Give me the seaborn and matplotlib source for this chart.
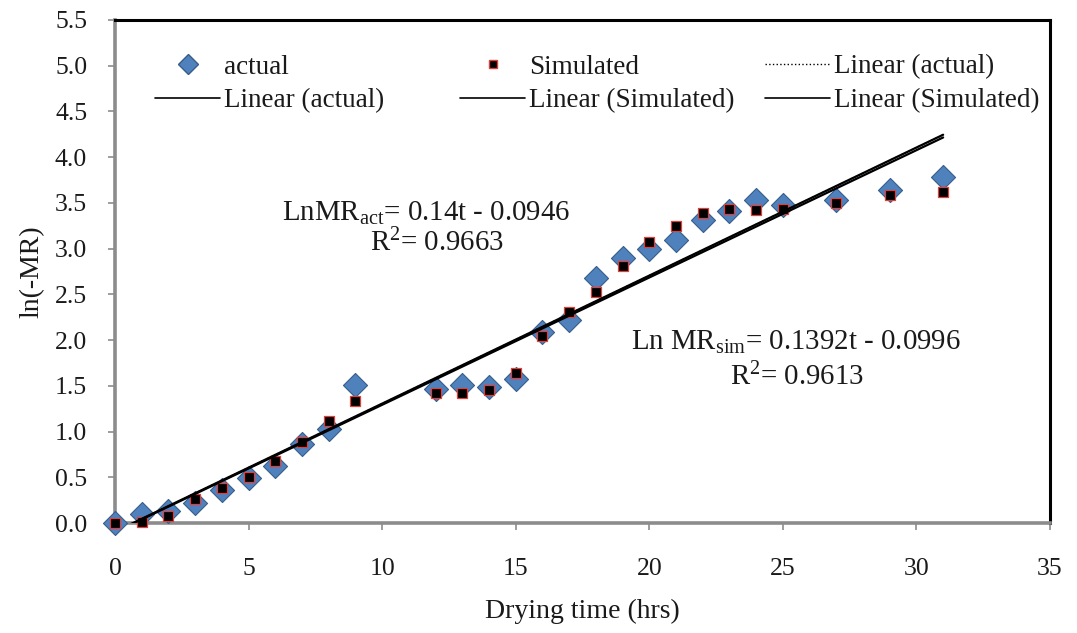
import numpy as np
import pandas as pd
import matplotlib
matplotlib.use("Agg")
import matplotlib.pyplot as plt
from matplotlib.lines import Line2D
import seaborn as sns

# Drying time (hrs) and ln(-MR) for the measured and simulated runs
time_hrs = [0, 1, 2, 3, 4, 5, 6, 7, 8, 9, 12, 13, 14, 15, 16, 17, 18, 19, 20,
            21, 22, 23, 24, 25, 27, 29, 31]
ln_mr_actual = [0.00, 0.10, 0.13, 0.22, 0.36, 0.49, 0.62, 0.86, 1.03, 1.51,
                1.47, 1.51, 1.49, 1.57, 2.09, 2.22, 2.68, 2.90, 3.00, 3.09,
                3.31, 3.41, 3.53, 3.48, 3.53, 3.64, 3.78]
ln_mr_simulated = [0.00, 0.01, 0.08, 0.26, 0.38, 0.50, 0.68, 0.89, 1.11, 1.33,
                   1.42, 1.42, 1.45, 1.64, 2.05, 2.31, 2.53, 2.81, 3.07, 3.25,
                   3.39, 3.43, 3.42, 3.43, 3.50, 3.59, 3.62]

# Linear fits reported on the chart
fit_actual = (0.14, -0.0946, 0.9663)
fit_simulated = (0.1392, -0.0996, 0.9613)

x_ticks = [0, 5, 10, 15, 20, 25, 30, 35]
y_ticks = [0.0, 0.5, 1.0, 1.5, 2.0, 2.5, 3.0, 3.5, 4.0, 4.5, 5.0, 5.5]

sns.set_theme(style="white")
plt.rcParams["font.family"] = ["Liberation Serif", "DejaVu Serif"]
plt.rcParams["mathtext.fontset"] = "custom"
plt.rcParams["mathtext.rm"] = "Liberation Serif"
plt.rcParams["mathtext.it"] = "Liberation Serif:italic"

W, H = 1077, 633
fig = plt.figure(figsize=(W / 100, H / 100), dpi=100)
ax = fig.add_axes([115 / W, 110 / H, 935 / W, 503 / H])

df = pd.DataFrame({"t": time_hrs, "actual": ln_mr_actual, "sim": ln_mr_simulated})

sns.scatterplot(data=df, x="t", y="actual", marker="D", s=150,
                color="#4F81BD", edgecolor="#385D8A", linewidth=0.8,
                clip_on=False, zorder=3, ax=ax, legend=False)
sns.scatterplot(data=df, x="t", y="sim", marker="s", s=44,
                color="black", edgecolor="#E0403C", linewidth=0.9,
                clip_on=False, zorder=4, ax=ax, legend=False)

t_fit = np.array([0.0, max(time_hrs)])
fit_df = pd.DataFrame({
    "t": t_fit,
    "act": fit_actual[0] * t_fit + fit_actual[1],
    "sim": fit_simulated[0] * t_fit + fit_simulated[1],
})
sns.lineplot(data=fit_df, x="t", y="act", color="black", linestyle=":",
             linewidth=1.0, zorder=5, ax=ax, legend=False)
sns.lineplot(data=fit_df, x="t", y="act", color="black", linewidth=1.6,
             zorder=5, ax=ax, legend=False)
sns.lineplot(data=fit_df, x="t", y="sim", color="black", linewidth=1.6,
             zorder=5, ax=ax, legend=False)

ax.set_xlim(0, 35)
ax.set_ylim(0, 5.5)
ax.set_xticks(x_ticks)
ax.set_yticks(y_ticks)
ax.set_xticklabels([str(v) for v in x_ticks])
ax.set_yticklabels([f"{v:.1f}" for v in y_ticks])

ax.tick_params(axis="both", which="major", direction="out", length=5,
               width=1.2, color="#8c8c8c", labelsize=18.5, labelcolor="#1a1a1a",
               left=True, bottom=True)
ax.tick_params(axis="y", pad=15)
ax.tick_params(axis="x", pad=20)

for side in ("left", "bottom"):
    ax.spines[side].set_color("#8c8c8c")
    ax.spines[side].set_linewidth(2.6)
for side in ("top", "right"):
    ax.spines[side].set_color("black")
    ax.spines[side].set_linewidth(2.2)

ax.set_xlabel("Drying time (hrs)", fontsize=20, color="#1a1a1a")
ax.set_ylabel("ln(-MR)", fontsize=20, color="#1a1a1a")
ax.xaxis.set_label_coords(0.5, -0.15)
ax.yaxis.set_label_coords(-0.075, 0.5)

# Fit equations
eq_fs = 20.8
ax.text(11.64, 3.39, r"LnMR$_{\mathrm{act}}$= 0.14t - 0.0946",
        fontsize=eq_fs, ha="center", va="center", color="#1a1a1a")
ax.text(12.06, 3.06, r"R$^{2}$= 0.9663",
        fontsize=eq_fs, ha="center", va="center", color="#1a1a1a")
ax.text(25.5, 1.97, r"Ln MR$_{\mathrm{sim}}$= 0.1392t - 0.0996",
        fontsize=eq_fs, ha="center", va="center", color="#1a1a1a")
ax.text(25.54, 1.60, r"R$^{2}$= 0.9613",
        fontsize=eq_fs, ha="center", va="center", color="#1a1a1a")

# Legend laid out as three equal-width columns
h_actual = Line2D([], [], marker="D", linestyle="none", markersize=10,
                  markerfacecolor="#4F81BD", markeredgecolor="#385D8A")
h_sim = Line2D([], [], marker="s", linestyle="none", markersize=5.5,
               markerfacecolor="black", markeredgecolor="#E0403C")
h_lin_dot = Line2D([], [], color="black", linestyle=":", linewidth=1.0)
h_lin_act = Line2D([], [], color="black", linewidth=1.2)
h_lin_sim = Line2D([], [], color="black", linewidth=1.2)

columns = [
    (155, [h_actual, h_lin_act], ["actual", "Linear (actual)"]),
    (460, [h_sim, h_lin_sim], ["Simulated", "Linear (Simulated)"]),
    (765, [h_lin_dot, h_lin_sim], ["Linear (actual)", "Linear (Simulated)"]),
]
leg_fs = 19.5
for x_px, handles, labels in columns:
    leg = fig.legend(handles, labels, loc="center left",
                     bbox_to_anchor=(x_px / W, 1 - 84 / H),
                     bbox_transform=fig.transFigure, frameon=False,
                     fontsize=leg_fs, handlelength=2.4, handletextpad=0.15,
                     labelspacing=0.33, borderpad=0, borderaxespad=0)
    for txt in leg.get_texts():
        txt.set_color("#1a1a1a")

fig.savefig("out.png", dpi=100)
